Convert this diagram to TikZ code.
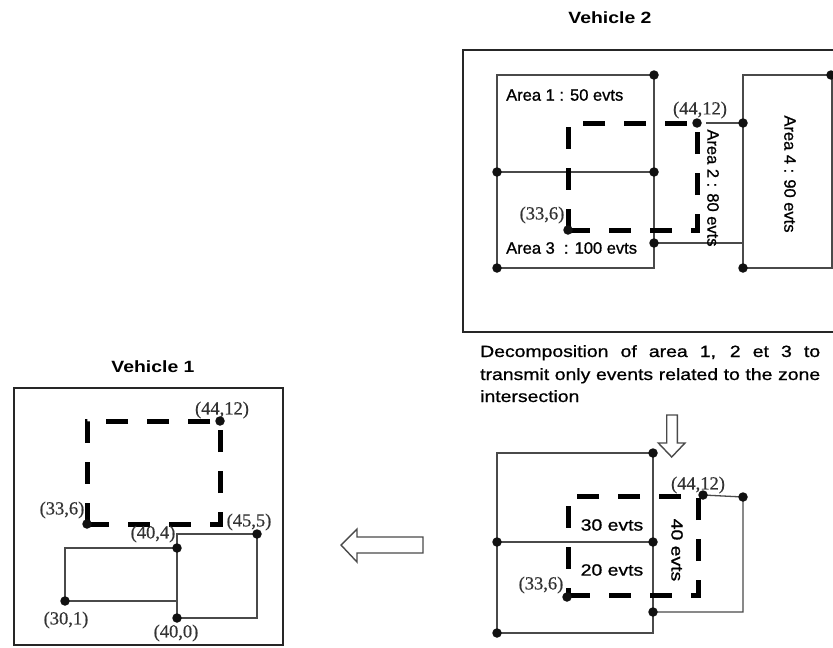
\documentclass[tikz,border=0pt]{standalone}
\usepackage{fontspec}
\newfontfamily\sfn[FakeBold=0.9]{Liberation Sans}
\newfontfamily\sfw[FakeStretch=1.19,FakeBold=0.9]{Liberation Sans}
\newfontfamily\sfb[FakeStretch=1.19]{Liberation Sans Bold}
\newfontfamily\tmf[FakeBold=0.5]{Liberation Serif}
\definecolor{linec}{HTML}{4A4A4A}
\definecolor{framec}{HTML}{262626}
\definecolor{dotc}{HTML}{111111}
\definecolor{coordc}{HTML}{333333}
\pgfdeclarelayer{bg}
\pgfsetlayers{bg,main}
\tikzset{
  dot/.style={circle, fill=dotc, inner sep=0pt, minimum size=9.5pt},
  arealine/.style={draw=linec, line width=1.3pt},
  frame/.style={draw=framec, line width=2.2pt},
  zone/.style={draw=black, line width=5pt, dash pattern=on 22pt off 19pt},
  lbl/.style={font=\sfn\fontsize{16.5}{18}\selectfont, inner sep=0pt, text=black},
  wlbl/.style={font=\sfw\fontsize{16.3}{18}\selectfont, inner sep=0pt, text=black},
  title/.style={font=\sfb\fontsize{16.3}{18}\selectfont, inner sep=0pt},
  crd/.style={font=\tmf\fontsize{18.5}{20}\selectfont, text=coordc, inner sep=0pt},
  bigarrow/.style={draw=linec, line width=1.4pt, fill=white, line join=miter},
}
\begin{document}
\begin{tikzpicture}[x=1pt,y=-1pt]
\useasboundingbox (0,0) rectangle (833,648);

% ---------------- Vehicle 2 ----------------
\node[title] (t2) at (610,18) {Vehicle 2};
\coordinate (v2tl) at (463,50);
\coordinate (v2bl) at (463,332);
\draw[frame] (840,50) -- (v2tl) -- (v2bl) -- (840,332);

\node[dot] (v2a) at (654,75) {};
\node[dot] (v2b) at (497,172) {};
\node[dot] (v2c) at (654,172) {};
\node[dot] (v2d) at (497,268) {};
\node[dot] (v2f) at (654,243) {};
\node[dot] (v2g) at (743,123) {};
\node[dot] (v2h) at (743,268) {};
\node[dot] (v2i) at (831,75) {};
\node[dot] (v2p) at (697,123) {};
\node[dot] (v2q) at (568,230) {};

\begin{pgfonlayer}{bg}
\draw[arealine] (497,75) -- (v2a.center) -- (v2c.center) -- (v2f.center) -- (654,268) -- (v2d.center) -- (v2b.center) -- cycle;
\draw[arealine] (v2b.center) -- (v2c.center);
\draw[arealine] (v2f.center) -- (743,243);
\draw[arealine] (v2i.center) -- (743,75) -- (v2g.center) -- (743,243) -- (v2h.center) -- (832,268) -- (832,75);
\draw[arealine] (706,123) -- (v2g.center);
\draw[zone] (v2q.center) -- (v2p.center |- v2q.center) -- (v2p.center) -- (v2q.center |- v2p.center) -- cycle;
\end{pgfonlayer}

\node[lbl, anchor=west] (l1) at (506,95) {Area 1 : 50 evts};
\node[lbl, anchor=west] (l3) at (506,248) {Area 3 \ : 100 evts};
\node[lbl, rotate=-90] (l2) at (713,188) {Area 2 : 80 evts};
\node[lbl, rotate=-90] (l4) at (790,174) {Area 4 : 90 evts};
\node[crd] (c2p) at (700,110) {(44,12)};
\node[crd] (c2q) at (542,215) {(33,6)};

% ---------------- Description + down arrow ----------------
\node[wlbl, anchor=base west] (desc1) at (480,357) {\makebox[340pt][s]{Decomposition of area 1, 2 et 3 to}};
\node[wlbl, anchor=base west] (desc2) at (480,380) {\makebox[340pt][s]{transmit only events related to the zone}};
\node[wlbl, anchor=base west] (desc3) at (480,402) {intersection};
\draw[bigarrow] (666.7,415) -- (677.3,415) -- (677.3,443) -- (685,443) -- (671.7,457) -- (658.3,443) -- (666.7,443) -- cycle;

% ---------------- Decomposed panel ----------------
\node[dot] (p3a) at (653,453) {};
\node[dot] (p3b) at (497,542) {};
\node[dot] (p3c) at (653,542) {};
\node[dot] (p3d) at (497,633) {};
\node[dot] (p3e) at (653,612) {};
\node[dot] (p3f) at (743,497) {};
\node[dot] (p3p) at (703,495) {};
\node[dot] (p3q) at (567,597) {};

\begin{pgfonlayer}{bg}
\draw[arealine] (497,453) -- (p3a.center) -- (p3c.center) -- (p3e.center) -- (653,633) -- (p3d.center) -- (p3b.center) -- cycle;
\draw[arealine] (p3b.center) -- (p3c.center);
\draw[arealine] (p3e.center) -- (743,612) -- (p3f.center) -- (p3p.center);
\draw[zone] (568,595) -- (698,595) -- (698,496) -- (568,496) -- cycle;
\end{pgfonlayer}

\node[crd] (c3p) at (698,485) {(44,12)};
\node[crd] (c3q) at (541,585) {(33,6)};
\node[wlbl] (e30) at (612,525) {30 evts};
\node[wlbl] (e20) at (612,570) {20 evts};
\node[wlbl, rotate=-90] (e40) at (677,550) {40 evts};

% ---------------- Left arrow ----------------
\draw[bigarrow] (423,537) -- (357,537) -- (357,529) -- (341,545) -- (357,562) -- (357,553) -- (423,553) -- cycle;

% ---------------- Vehicle 1 ----------------
\node[title] (t1) at (153,367) {Vehicle 1};
\coordinate (v1tl) at (14,388);
\coordinate (v1br) at (283,645);
\draw[frame] (v1tl) rectangle (v1br);

\node[dot] (v1p) at (220,421) {};
\node[dot] (v1q) at (87,524) {};
\node[dot] (v1a) at (65,601) {};
\node[dot] (v1b) at (177,548) {};
\node[dot] (v1c) at (257,534) {};
\node[dot] (v1d) at (177,618) {};

\begin{pgfonlayer}{bg}
\draw[arealine] (v1a.center) -- (65,548) -- (v1b.center);
\draw[arealine] (v1a.center) -- (177,601);
\draw[arealine] (177,534) -- (v1c.center) -- (257,618) -- (v1d.center) -- cycle;
\draw[zone] (v1q.center) -- (v1p.center |- v1q.center) -- (v1p.center) -- (v1q.center |- v1p.center) -- cycle;
\end{pgfonlayer}

\node[crd] (c1p) at (222,410) {(44,12)};
\node[crd] (c1q) at (62,510) {(33,6)};
\node[crd] (c1b) at (153,534) {(40,4)};
\node[crd] (c1c) at (249,522) {(45,5)};
\node[crd] (c1a) at (66,620) {(30,1)};
\node[crd] (c1d) at (176,633) {(40,0)};
\end{tikzpicture}
\end{document}
